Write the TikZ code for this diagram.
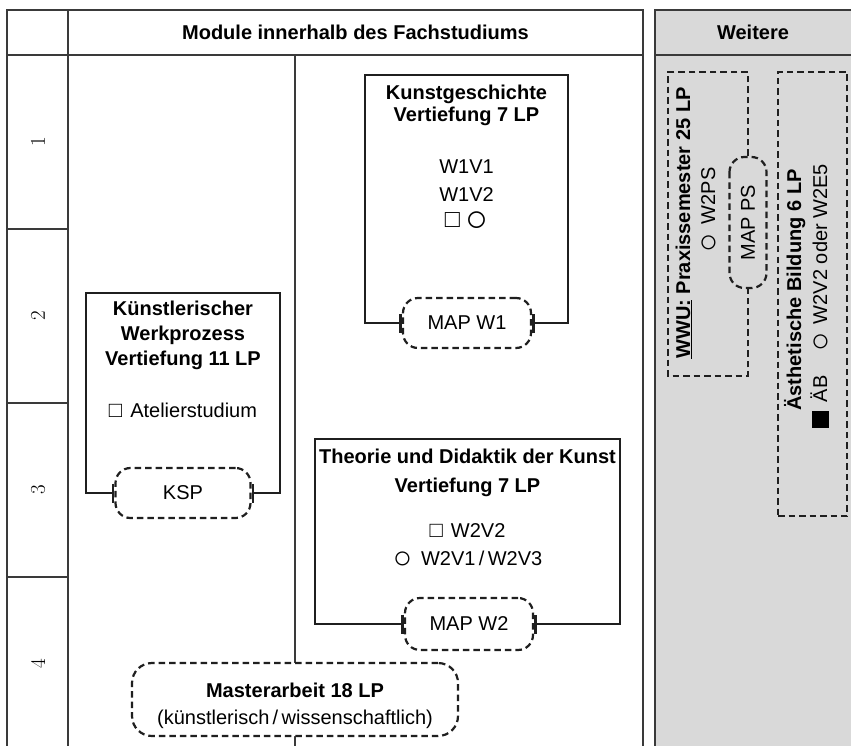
\documentclass[tikz,border=0pt]{standalone}
\usepackage{fontspec}
\setsansfont{Liberation Sans}
\usetikzlibrary{arrows.meta}
\definecolor{panelgray}{HTML}{D9D9D9}
\definecolor{rulegray}{HTML}{3A3A3A}
\newcommand\modbf{\fontsize{20}{24}\selectfont\sffamily\bfseries}
\newcommand\modrg{\fontsize{20}{24}\selectfont\sffamily}
\newcommand\symcirc[2]{\raisebox{#2}{\scalebox{#1}{○}}}
\newcommand\symsq[1]{\scalebox{#1}{□}}
\begin{document}
\begin{tikzpicture}[x=1pt,y=-1pt,
  tline/.style={draw=rulegray, line width=1.6pt},
  modline/.style={draw=black!88, line width=2.7pt},
  dsh/.style={draw=black!88, line width=2.2pt, dash pattern=on 6.5pt off 4pt},
  mapnode/.style={dsh, rounded corners=15pt, inner sep=0pt, font=\modrg},
  area/.style={inner sep=0pt, outer sep=0pt},
  tb/.style={inner sep=0pt, anchor=base, font=\modbf},
  tr/.style={inner sep=0pt, anchor=base, font=\modrg},
  num/.style={inner sep=0pt, font=\fontsize{21}{21}\selectfont\rmfamily, rotate=90},
  tbar/.style={arrows={Bar[width=19pt]-Bar[width=19pt]}}
]
\useasboundingbox (0,0) rectangle (851,746);
\fill[white] (0,0) rectangle (851,746);
\begin{scope}
\clip (0,0) rectangle (851,746);
% right panel
\fill[panelgray] (655,10) rectangle (870,770);
\draw[tline] (870,10) -- (655,10) -- (655,770);
\draw[tline] (655,55) -- (870,55);
% table
\draw[tline] (7,770) -- (7,10) -- (643,10) -- (643,770);
\draw[tline] (7,55) -- (643,55);
\draw[tline] (68,10) -- (68,770);
\draw[tline] (7,229) -- (68,229);
\draw[tline] (7,403) -- (68,403);
\draw[tline] (7,577) -- (68,577);
\draw[tline] (295,55) -- (295,770);
\end{scope}

% headers
\node[tb] (hmain) at (355.5,40) {Module innerhalb des Fachstudiums};
\node[tb] (hweit) at (753,40) {Weitere};

% row numbers
\node[num] (r1) at (38,142) {1};
\node[num] (r2) at (38,316) {2};
\node[num] (r3) at (38,490) {3};
\node[num] (r4) at (38,664) {4};

% Kunstgeschichte
\node[area, minimum width=203pt, minimum height=248pt] (kg) at (466.5,199) {};
\node[tb] (kgt1) at (466.5,100) {Kunstgeschichte};
\node[tb] (kgt2) at (466.5,122) {Vertiefung 7 LP};
\node[tr] (kgc1) at (466.5,174) {W1V1};
\node[tr] (kgc2) at (466.5,201) {W1V2};
\node[tr] (kgc3) at (466.5,227) {\symsq{1.25}\hspace{5pt}\symcirc{1.9}{-4.8pt}};
\node[mapnode, minimum width=128pt, minimum height=50pt] (mapw1) at (467,323) {MAP W1};
\draw[modline, tbar] (mapw1.west) -- (kg.south west) -- (kg.north west) -- (kg.north east) -- (kg.south east) -- (mapw1.east);

% Kuenstlerischer Werkprozess
\node[area, minimum width=194pt, minimum height=200pt] (kw) at (183,393) {};
\node[tb] (kwt1) at (183,315) {Künstlerischer};
\node[tb] (kwt2) at (183,340) {Werkprozess};
\node[tb] (kwt3) at (183,365) {Vertiefung 11 LP};
\node[tr] (kwc1) at (183,417) {\symsq{1.1}\hspace{8pt}Atelierstudium};
\node[mapnode, minimum width=135pt, minimum height=50pt] (ksp) at (183,493) {KSP};
\draw[modline, tbar] (ksp.west) -- (kw.south west) -- (kw.north west) -- (kw.north east) -- (kw.south east) -- (ksp.east);

% Theorie und Didaktik
\node[area, minimum width=305pt, minimum height=185pt] (td) at (467.5,531.5) {};
\node[tb] (tdt1) at (467.5,463) {Theorie und Didaktik der Kunst};
\node[tb] (tdt2) at (467.5,492) {Vertiefung 7 LP};
\node[tr] (tdc1) at (467.5,537) {\symsq{1.1}\hspace{8pt}W2V2};
\node[tr] (tdc2) at (467.5,565) {\symcirc{1.6}{-3.8pt}\hspace{9pt}W2V1\,/\,W2V3};
\node[mapnode, minimum width=128pt, minimum height=52pt] (mapw2) at (469,624) {MAP W2};
\draw[modline, tbar] (mapw2.west) -- (td.south west) -- (td.north west) -- (td.north east) -- (td.south east) -- (mapw2.east);

% Masterarbeit
\node[dsh, fill=white, rounded corners=20pt, minimum width=326pt, minimum height=73pt] (ma) at (295,699.5) {};
\node[tb] (mat1) at (295,697) {Masterarbeit 18 LP};
\node[tr] (mat2) at (295,724) {(künstlerisch\,/\,wissenschaftlich)};

% Praxissemester
\node[area, minimum width=80pt, minimum height=304pt] (wwu) at (708,224) {};
\node[mapnode, rotate=90, minimum width=131pt, minimum height=37pt] (mapps) at (748,222.5) {MAP PS};
\draw[dsh] (mapps.east) -- (wwu.north east) -- (wwu.north west) -- (wwu.south west) -- (wwu.south east) -- (mapps.west);
\node[tb, rotate=90] (wwut) at (690,223) {\underline{WWU:} Praxissemester 25 LP};
\node[tr, rotate=90] (w2ps) at (715,210) {\symcirc{1.6}{-3.8pt}\hspace{9pt}W2PS};

% Aesthetische Bildung
\node[dsh, area, minimum width=69pt, minimum height=444pt] (aeb) at (812.5,294) {};
\node[tb, rotate=90] (aebt) at (801,290) {Ästhetische Bildung 6 LP};
\node[tr, rotate=90] (aebc) at (827,296) {\rule[-2pt]{17pt}{17pt}\hspace{9pt}ÄB\hspace{24pt}\symcirc{1.6}{-3.8pt}\hspace{8pt}W2V2 oder W2E5};
\end{tikzpicture}
\end{document}
